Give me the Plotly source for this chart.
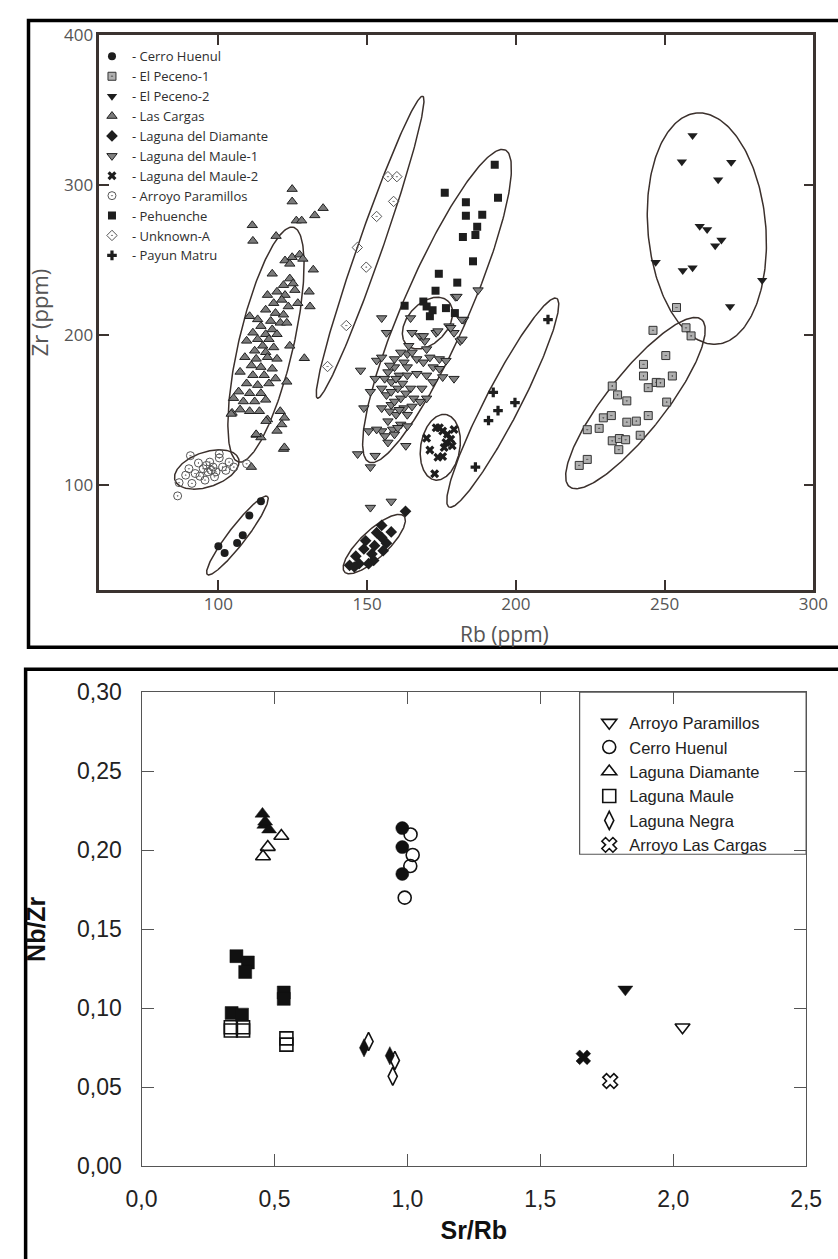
import numpy as np
import plotly.graph_objects as go

W, H = 838, 1259

# ---------------- Top panel: Zr (ppm) vs Rb (ppm) ----------------
cerro_huenul_rb = [100.0, 102.1, 106.3, 108.2, 110.4, 114.3]
cerro_huenul_zr = [59.2, 54.8, 61.4, 66.6, 79.7, 89.3]

el_peceno1_rb = [254.0, 246.1, 257.2, 258.9, 250.4, 242.9, 242.9, 252.6, 244.5, 247.2,
                 248.6, 232.4, 234.2, 237.3, 250.7, 229.4, 232.1, 237.3, 240.5, 244.5,
                 224.0, 228.0, 232.4, 234.8, 236.9, 241.8, 234.6, 224.0, 221.3]
el_peceno1_zr = [218.3, 203.1, 204.8, 199.4, 186.3, 180.4, 172.7, 172.7, 164.9, 168.4,
                 168.1, 166.0, 160.1, 156.1, 155.3, 144.8, 146.3, 141.9, 142.6, 146.3,
                 136.9, 137.8, 129.5, 131.0, 130.2, 133.2, 123.6, 117.1, 113.1]

el_peceno2_rb = [259.4, 255.8, 272.4, 268.0, 261.8, 264.3, 269.1, 267.0, 247.0, 256.1,
                 259.4, 282.8, 272.0]
el_peceno2_zr = [333.0, 315.5, 315.1, 303.5, 272.5, 270.3, 263.3, 259.4, 248.5, 243.0,
                 244.8, 236.5, 219.0]

las_cargas_rb = [124.8, 124.8, 126.2, 128.0, 132.4, 135.2, 111.4, 111.6, 119.4, 122.4,
                 124.8, 127.3, 128.4, 124.0, 118.1, 124.0, 121.9, 125.1, 119.7, 122.4,
                 125.7, 116.5, 118.6, 121.3, 123.5, 115.9, 119.2, 121.9, 113.2, 117.6,
                 120.8, 123.0, 110.5, 114.3, 118.1, 111.6, 115.9, 119.7, 113.2, 117.0,
                 109.5, 114.9, 118.6, 112.2, 115.9, 124.0, 108.9, 112.7, 116.5, 119.7,
                 111.1, 114.3, 118.1, 107.3, 111.6, 115.4, 119.2, 109.5, 113.2, 117.0,
                 106.8, 110.5, 114.3, 105.1, 108.4, 112.2, 115.9, 104.6, 107.3, 110.5,
                 113.8, 120.8, 123.0, 131.9, 130.5, 130.8, 128.9, 126.7, 122.2, 119.7,
                 121.3, 116.5, 112.7, 114.3, 121.9, 122.2, 111.1, 112.7, 104.3, 116.0]
las_cargas_zr = [297.2, 288.9, 276.2, 276.2, 279.7, 284.5, 273.1, 262.7, 265.9, 249.6,
                 251.8, 253.5, 250.7, 247.4, 240.8, 237.6, 233.2, 234.3, 228.8, 226.6,
                 229.9, 226.6, 221.2, 223.4, 219.0, 216.8, 214.6, 213.5, 210.4, 209.3,
                 208.1, 208.1, 212.5, 205.9, 203.7, 201.5, 200.5, 200.5, 197.2, 197.2,
                 196.1, 192.8, 191.7, 189.5, 188.5, 192.8, 185.2, 184.1, 185.2, 184.1,
                 179.7, 178.6, 177.5, 175.4, 173.2, 173.2, 171.0, 167.7, 166.6, 167.7,
                 162.3, 161.2, 161.2, 157.9, 155.7, 155.7, 156.8, 148.1, 150.3, 149.2,
                 149.2, 149.2, 168.8, 243.5, 228.8, 219.0, 184.5, 221.2, 144.8, 136.1,
                 140.4, 143.7, 133.4, 131.7, 124.0, 125.1, 112.0, 133.8, 147.4, 142.6]

laguna_diamante_rb = [162.9, 154.9, 158.1, 149.5, 154.9, 156.5, 152.5, 148.9, 155.4, 151.6,
                      146.2, 147.3, 144.1, 145.7, 152.2, 150.5, 153.2]
laguna_diamante_zr = [82.5, 73.1, 68.8, 62.9, 65.1, 61.3, 59.6, 57.4, 56.3, 54.1,
                      52.6, 47.6, 46.5, 45.4, 49.8, 47.6, 68.3]

laguna_maule1_rb = [154.9, 156.5, 147.8, 153.2, 148.9, 164.6, 165.1, 167.8, 169.4, 173.2,
                    177.5, 179.7, 182.4, 179.2, 181.3, 187.3, 179.2, 175.4, 171.1, 174.3,
                    176.5, 163.5, 161.3, 162.4, 166.7, 159.2, 157.0, 160.8, 163.5, 166.7,
                    170.0, 172.1, 158.1, 154.9, 160.3, 164.6, 168.4, 156.5, 161.3, 165.7,
                    170.0, 158.1, 162.4, 167.8, 154.9, 159.7, 163.5, 157.0, 161.3, 154.9,
                    158.6, 163.5, 151.1, 152.7, 164.0, 165.1, 168.9, 172.2, 174.3, 159.2,
                    170.0, 163.5, 157.6, 159.7, 161.9, 158.1, 163.0, 159.2, 160.8, 157.6,
                    165.1, 155.9, 146.8, 152.7, 151.1, 153.2, 156.0, 159.2, 163.0, 154.9,
                    181.9, 150.5, 157.0, 160.3, 180.2, 181.9, 178.1, 173.8, 168.9, 151.1,
                    158.1]
laguna_maule1_zr = [211.3, 201.5, 176.4, 183.0, 151.3, 211.3, 201.5, 199.3, 196.0, 201.5,
                    205.9, 225.5, 210.2, 201.5, 196.0, 229.9, 170.9, 172.0, 185.1, 184.0,
                    182.9, 187.3, 188.4, 181.8, 184.0, 178.6, 175.3, 173.1, 173.1, 174.2,
                    173.1, 168.7, 168.7, 164.4, 164.4, 164.4, 164.4, 160.0, 157.8, 157.8,
                    157.8, 153.5, 151.3, 155.6, 151.3, 146.9, 146.9, 142.6, 140.4, 136.0,
                    137.1, 139.3, 162.2, 170.9, 192.8, 188.4, 181.8, 178.6, 177.5, 184.0,
                    190.6, 178.6, 179.7, 170.9, 167.7, 162.2, 161.1, 155.7, 150.2, 149.1,
                    152.4, 170.9, 120.7, 119.6, 112.0, 137.1, 132.7, 133.8, 126.2, 185.1,
                    197.1, 136.0, 128.4, 138.2, 225.6, 210.3, 204.8, 202.6, 199.4, 85.0,
                    89.1]

laguna_maule2_rb = [170.0, 173.2, 175.4, 177.0, 178.1, 178.6, 179.2, 175.9, 171.1, 173.8,
                    175.4, 172.7, 174.3, 176.5]
laguna_maule2_zr = [131.2, 138.2, 136.0, 133.8, 130.5, 126.2, 137.1, 125.1, 123.3, 118.5,
                    119.0, 107.6, 138.2, 128.4]

arroyo_paramillos_rb = [90.6, 93.3, 90.1, 92.2, 94.9, 96.5, 98.2, 100.3, 101.4, 102.5,
                        98.7, 95.5, 93.8, 89.0, 86.8, 86.3, 109.5, 100.3, 97.1, 97.6,
                        99.2, 96.0, 103.6, 105.2, 91.1]
arroyo_paramillos_zr = [119.6, 114.7, 110.9, 107.7, 110.9, 108.8, 112.0, 118.1, 112.0, 109.8,
                        105.5, 103.3, 105.9, 106.6, 101.6, 92.8, 114.2, 120.8, 115.3, 109.8,
                        108.8, 113.1, 115.3, 112.0, 101.1]

pehuenche_rb = [192.9, 194.0, 176.1, 183.2, 183.2, 188.7, 187.0, 182.2, 186.4, 185.6,
                174.1, 180.3, 173.0, 162.6, 168.9, 171.1, 176.5, 179.5, 170.0, 172.0]
pehuenche_zr = [313.5, 291.5, 294.8, 288.4, 279.5, 280.1, 272.1, 265.3, 266.6, 249.1,
                240.8, 234.9, 229.5, 219.5, 222.3, 212.5, 217.9, 214.6, 219.0, 216.5]

unknown_a_rb = [157.0, 160.0, 158.9, 153.2, 146.7, 149.7, 143.0, 136.7]
unknown_a_zr = [305.5, 305.5, 289.0, 279.0, 258.3, 245.2, 206.3, 179.0]

payun_matru_rb = [210.8, 192.4, 199.7, 194.0, 190.8, 186.4]
payun_matru_zr = [210.3, 161.8, 155.0, 149.6, 143.0, 112.0]

# grouping ellipses: centre (Rb, Zr), half major axis vector (Rb, Zr), minor/major ratio
ell_cx = [96.1, 106.4, 116.0, 151.0, 173.5, 170.3, 174.6, 195.6, 240.2, 264.2, 152.4]
ell_cy = [110.4, 66.4, 193.6, 258.5, 219.3, 207.9, 125.2, 154.9, 154.6, 270.9, 60.7]
ell_dx = [10.7, 10.1, 9.2, 17.7, 22.9, 7.0, 1.9, 18.1, 22.2, -3.5, 10.0]
ell_dy = [7.1, 26.0, 78.2, 100.6, 104.0, 14.5, 21.8, 69.5, 55.7, 77.0, 18.6]
ell_ratio = [0.51, 0.18, 0.23, 0.077, 0.195, 0.66, 0.6, 0.15, 0.275, 0.517, 0.334]

top_legend_names = ["- Cerro Huenul", "- El Peceno-1", "- El Peceno-2", "- Las Cargas",
                    "- Laguna del Diamante", "- Laguna del Maule-1", "- Laguna del Maule-2",
                    "- Arroyo Paramillos", "- Pehuenche", "- Unknown-A", "- Payun Matru"]
top_x_ticks = [100, 150, 200, 250, 300]
top_y_ticks = [100, 200, 300, 400]

# ---------------- Bottom panel: Nb/Zr vs Sr/Rb ----------------
bottom_names = ["Arroyo Paramillos", "Cerro Huenul", "Laguna Diamante",
                "Laguna Maule", "Laguna Negra", "Arroyo Las Cargas"]
open_srrb = [
    [2.035],
    [1.012, 1.020, 1.011, 0.990],
    [0.526, 0.475, 0.457],
    [0.336, 0.336, 0.382, 0.382, 0.545, 0.545],
    [0.854, 0.953, 0.945],
    [1.763],
]
open_nbzr = [
    [0.088],
    [0.210, 0.197, 0.190, 0.170],
    [0.209, 0.202, 0.196],
    [0.088, 0.086, 0.088, 0.086, 0.081, 0.077],
    [0.079, 0.067, 0.057],
    [0.054],
]
filled_srrb = [
    [1.820],
    [0.981, 0.981, 0.981],
    [0.455, 0.462, 0.480, 0.465],
    [0.357, 0.400, 0.390, 0.535, 0.535, 0.339, 0.378],
    [0.837, 0.934],
    [1.662],
]
filled_nbzr = [
    [0.112],
    [0.214, 0.202, 0.185],
    [0.223, 0.216, 0.213, 0.218],
    [0.133, 0.129, 0.123, 0.110, 0.106, 0.097, 0.096],
    [0.075, 0.070],
    [0.069],
]
bottom_x_ticks = [0.0, 0.5, 1.0, 1.5, 2.0, 2.5]
bottom_y_ticks = [0.0, 0.05, 0.10, 0.15, 0.20, 0.25, 0.30]

# ---------------- layout geometry ----------------
top_xdom = [86.7 / W, 829.0 / W]
top_ydom = [1 - 589.3 / H, 1 - 22.3 / H]
bot_xdom = [130.5 / W, 821.5 / W]
bot_ydom = [1 - 1177.7 / H, 1 - 693.5 / H]
top_xr = [60, 300]
top_yr = [30, 400]

TOPFONT = "Open Sans"
BOTFONT = "Liberation Sans, Arial"
DARK = "#1e1e1e"
EDGE = "#222222"

fig = go.Figure()

# ellipses (computed in screen-proportional space)
sx = (top_xdom[1] - top_xdom[0]) * W / (top_xr[1] - top_xr[0])
sy = (top_ydom[1] - top_ydom[0]) * H / (top_yr[1] - top_yr[0])
t = np.linspace(0, 2 * np.pi, 240)
for cx, cy, dx, dy, r in zip(ell_cx, ell_cy, ell_dx, ell_dy, ell_ratio):
    ux, uy = dx * sx, dy * sy
    vx, vy = -uy * r, ux * r
    ex = cx + (np.cos(t) * ux + np.sin(t) * vx) / sx
    ey = cy + (np.cos(t) * uy + np.sin(t) * vy) / sy
    fig.add_trace(go.Scatter(x=ex, y=ey, mode="lines", showlegend=False, hoverinfo="skip",
                             line=dict(color="#3b302c", width=1.5), xaxis="x", yaxis="y"))

top_series = [
    (cerro_huenul_rb, cerro_huenul_zr, dict(symbol="circle", size=8, color=DARK)),
    (el_peceno1_rb, el_peceno1_zr, dict(symbol="square-dot", size=8, color="#b0b0b0",
                                         line=dict(color="#333333", width=1))),
    (el_peceno2_rb, el_peceno2_zr, dict(symbol="triangle-down", size=9, color=DARK)),
    (las_cargas_rb, las_cargas_zr, dict(symbol="triangle-up", size=9, color="#7a7a7a",
                                         line=dict(color=EDGE, width=1))),
    (laguna_diamante_rb, laguna_diamante_zr, dict(symbol="diamond", size=9, color=DARK)),
    (laguna_maule1_rb, laguna_maule1_zr, dict(symbol="triangle-down", size=9, color="#828282",
                                               line=dict(color=EDGE, width=1))),
    (laguna_maule2_rb, laguna_maule2_zr, dict(symbol="x", size=8, color=DARK)),
    (arroyo_paramillos_rb, arroyo_paramillos_zr, dict(symbol="circle-open-dot", size=8,
                                                       color="#555555", line=dict(width=1))),
    (pehuenche_rb, pehuenche_zr, dict(symbol="square", size=8, color=DARK)),
    (unknown_a_rb, unknown_a_zr, dict(symbol="diamond-open-dot", size=8, color="#555555",
                                       line=dict(width=1))),
    (payun_matru_rb, payun_matru_zr, dict(symbol="cross", size=8, color=DARK)),
]
for name, (xs, ys, mk) in zip(top_legend_names, top_series):
    fig.add_trace(go.Scatter(x=xs, y=ys, mode="markers", name=name, marker=mk,
                             xaxis="x", yaxis="y", legend="legend"))

open_symbols = ["triangle-down-open", "circle-open", "triangle-up-open",
                "square-open", "diamond-tall-open", "x-open"]
filled_symbols = ["triangle-down", "circle", "triangle-up", "square", "diamond-tall", "x"]
for i, name in enumerate(bottom_names):
    fig.add_trace(go.Scatter(x=open_srrb[i], y=open_nbzr[i], mode="markers", name=name,
                             marker=dict(symbol=open_symbols[i], size=13, color="#111111",
                                         line=dict(width=1.6, color="#111111")),
                             xaxis="x2", yaxis="y2", legend="legend2"))
for i, name in enumerate(bottom_names):
    fig.add_trace(go.Scatter(x=filled_srrb[i], y=filled_nbzr[i], mode="markers", name=name,
                             showlegend=False,
                             marker=dict(symbol=filled_symbols[i], size=13, color="#111111",
                                         line=dict(width=0.5, color="#111111")),
                             xaxis="x2", yaxis="y2"))

top_axis_common = dict(showline=True, linecolor="#3b3330", linewidth=2.5, mirror="ticks",
                       ticks="inside", ticklen=10, tickwidth=1.5, tickcolor="#3b3330",
                       showgrid=False, zeroline=False,
                       tickfont=dict(family=TOPFONT, size=17, color="#555555"))
bot_axis_common = dict(showline=True, linecolor="#555555", linewidth=1.3, mirror="ticks",
                       ticks="inside", ticklen=12, tickwidth=1.3, tickcolor="#555555",
                       showgrid=False, zeroline=False,
                       tickfont=dict(family=BOTFONT, size=23, color="#222222"))

fig.update_layout(
    width=W, height=H, margin=dict(l=0, r=0, t=0, b=0),
    paper_bgcolor="white", plot_bgcolor="white",
    separators=",.",
    xaxis=dict(domain=top_xdom, range=top_xr, anchor="y", tickvals=top_x_ticks,
               ticklabelstandoff=-3, **top_axis_common),
    yaxis=dict(domain=top_ydom, range=top_yr, anchor="x", tickvals=top_y_ticks,
               title=dict(text="Zr (ppm)", font=dict(family=TOPFONT, size=22, color="#555555"),
                          standoff=10),
               **top_axis_common),
    xaxis2=dict(domain=bot_xdom, range=[0, 2.5], anchor="y2", tickvals=bottom_x_ticks,
                tickformat=".1f", ticklabelstandoff=12,
                title=dict(text="<b>Sr/Rb</b>", font=dict(family=BOTFONT, size=25, color="#111111"),
                           standoff=10),
                **bot_axis_common),
    yaxis2=dict(domain=bot_ydom, range=[0, 0.30], anchor="x2", tickvals=bottom_y_ticks,
                tickformat=".2f", ticklabelstandoff=14,
                title=dict(text="<b>Nb/Zr</b>", font=dict(family=BOTFONT, size=25, color="#111111"),
                           standoff=24),
                **bot_axis_common),
    legend=dict(x=79 / W, y=1 - 29 / H, xanchor="left", yanchor="top",
                bgcolor="rgba(0,0,0,0)", borderwidth=0,
                font=dict(family=TOPFONT, size=13, color="#2e2e2e")),
    legend2=dict(x=596 / W, y=1 - 707 / H, xanchor="left", yanchor="top",
                 bgcolor="rgba(0,0,0,0)", borderwidth=0,
                 font=dict(family=BOTFONT, size=16.5, color="#222222")),
    annotations=[dict(text="Rb (ppm)", x=508 / W, y=1 - 634 / H, xref="paper", yref="paper",
                      xanchor="center", yanchor="middle", showarrow=False,
                      font=dict(family=TOPFONT, size=21, color="#555555"))],
    shapes=[
        dict(type="rect", xref="paper", yref="paper", x0=13 / W, x1=1.05,
             y0=1 - 647.5 / H, y1=1 - 7.7 / H, line=dict(color="black", width=3.5)),
        dict(type="rect", xref="paper", yref="paper", x0=10 / W, x1=1.05,
             y0=-0.05, y1=1 - 670 / H, line=dict(color="black", width=3.5)),
        dict(type="rect", xref="paper", yref="paper", x0=586 / W, x1=821.5 / W,
             y0=1 - 859 / H, y1=1 - 693.5 / H, line=dict(color="#555555", width=1.2)),
    ],
)

fig.write_html("out.html")
